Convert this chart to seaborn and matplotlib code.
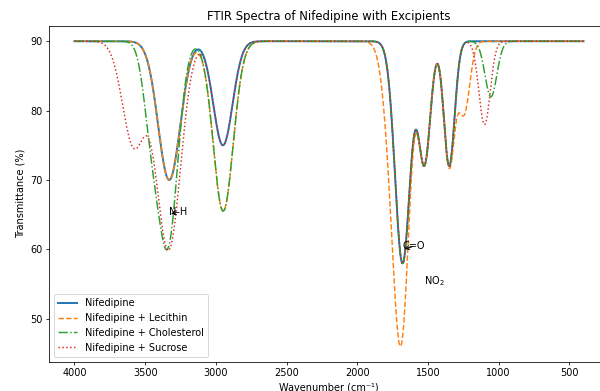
import numpy as np
import pandas as pd
import matplotlib
matplotlib.use("Agg")
import matplotlib.pyplot as plt
import seaborn as sns

# wavenumber range of the spectra (cm-1)
wn_start, wn_end = 4000, 400

# absorption bands: centre (cm-1), depth (% T), width (cm-1)
nif_centers = [3330, 2950, 1680, 1525, 1350]
nif_depths = [20, 15, 32, 17.5, 18]
nif_widths = [78, 68, 53, 42, 38]

lec_centers = [3330, 2950, 2945, 1680, 1740, 1525, 1350, 1245]
lec_depths = [20, 15, 9.5, 32, 17.5, 17.5, 18, 10.3]
lec_widths = [78, 68, 75, 53, 60, 42, 38, 40]

chol_centers = [3340, 3460, 2950, 2945, 1680, 1525, 1350, 1055]
chol_depths = [29, 10, 15, 9.5, 32, 17.5, 18, 8]
chol_widths = [70, 55, 68, 75, 53, 42, 38, 42]

suc_centers = [3580, 3335, 2950, 1680, 1525, 1350, 1100]
suc_depths = [15, 30, 15, 32, 17.5, 18, 12]
suc_widths = [80, 85, 68, 53, 42, 38, 40]

baseline = 90
labels = ["Nifedipine", "Nifedipine + Lecithin",
          "Nifedipine + Cholesterol", "Nifedipine + Sucrose"]


def spectrum(wn, centers, depths, widths):
    t = np.full_like(wn, baseline, dtype=float)
    for c, d, w in zip(centers, depths, widths):
        t -= d * np.exp(-((wn - c) ** 2) / (2 * w ** 2))
    return t


wn = np.linspace(wn_start, wn_end, 3601)
df = pd.DataFrame({
    "wn": wn,
    labels[0]: spectrum(wn, nif_centers, nif_depths, nif_widths),
    labels[1]: spectrum(wn, lec_centers, lec_depths, lec_widths),
    labels[2]: spectrum(wn, chol_centers, chol_depths, chol_widths),
    labels[3]: spectrum(wn, suc_centers, suc_depths, suc_widths),
})

styles = ["-", "--", "-.", ":"]
widths = [2, 1.5, 1.5, 1.5]
colors = ["C0", "C1", "C2", "C3"]

fig = plt.figure(figsize=(600 / 70, 391 / 70), dpi=70)
ax = fig.add_axes([49 / 600, 29.5 / 391, 560 / 600, 335.5 / 391])

for lab, ls, lw, col in zip(labels, styles, widths, colors):
    sns.lineplot(data=df, x="wn", y=lab, ax=ax, label=lab, color=col,
                 linestyle=ls, linewidth=lw, sort=False)

ax.invert_xaxis()
ax.set_xlabel("Wavenumber (cm⁻¹)")
ax.set_ylabel("Transmittance (%)")
ax.set_title("FTIR Spectra of Nifedipine with Excipients")

ax.annotate("N-H", xy=(3330, 65), xytext=(3330, 65),
            arrowprops=dict(arrowstyle="->"))
ax.annotate("C=O", xy=(1680, 60), xytext=(1680, 60),
            arrowprops=dict(arrowstyle="->"))
ax.text(1530, 55, "NO$_2$")

ax.legend(loc="lower left")

fig.savefig("out.png", dpi=70)
